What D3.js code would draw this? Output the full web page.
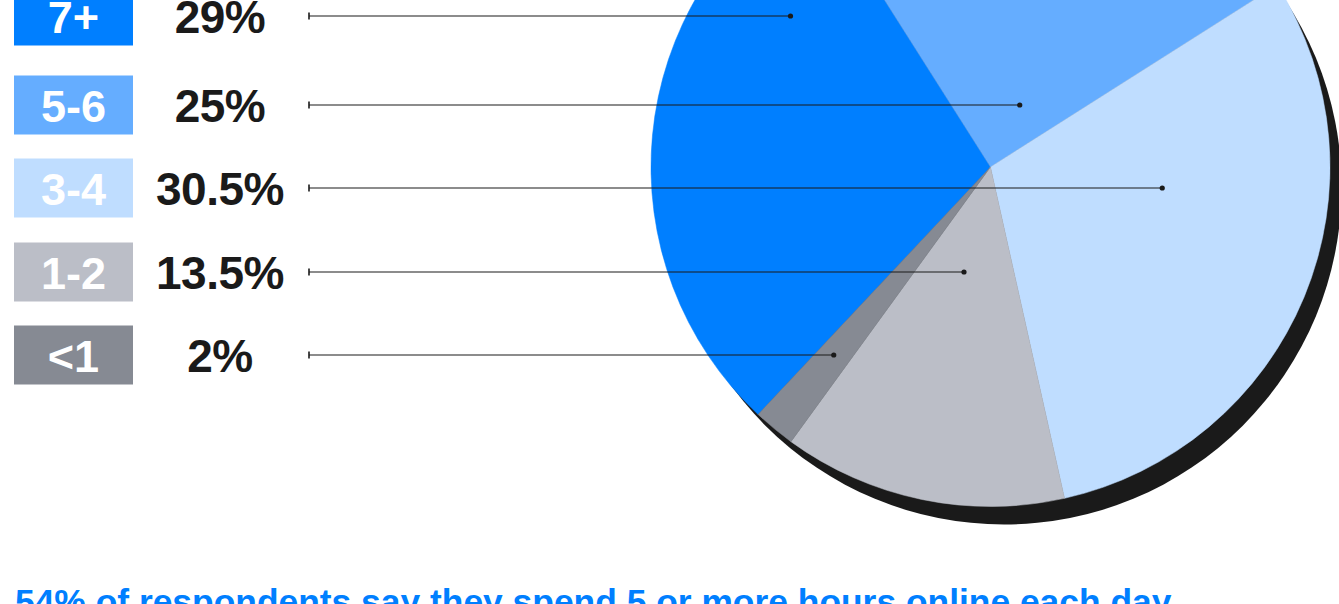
<!DOCTYPE html>
<html>
<head>
<meta charset="utf-8">
<script src="https://cdn.jsdelivr.net/npm/d3@7"></script>
<style>
  html, body { margin: 0; padding: 0; background: #ffffff; overflow: hidden; }
  svg { display: block; }
</style>
</head>
<body>
<svg id="chart" width="1339" height="604"></svg>
<script>
// Hours spent online per day
const categories = ["7+", "5-6", "3-4", "1-2", "<1"];
const shares = [29, 25, 30.5, 13.5, 2];
const shareLabels = ["29%", "25%", "30.5%", "13.5%", "2%"];
const colors = ["#007fff", "#65adff", "#bfddff", "#bbbec7", "#868a93"];
const caption = "54% of respondents say they spend 5 or more hours online each day";

const W = 1339, H = 604;
const svg = d3.select("#chart");

// pie geometry
const cx = 990.5, cy = 167, R = 339.5;
const startAngle = -136.8 * Math.PI / 180;

const pie = d3.pie()
  .sort(null)
  .value(d => d)
  .startAngle(startAngle)
  .endAngle(startAngle + 2 * Math.PI);
const arcs = pie(shares);
const arc = d3.arc().innerRadius(0).outerRadius(R);

// drop shadow disc
svg.append("circle")
  .attr("cx", cx + 13.6)
  .attr("cy", cy + 20)
  .attr("r", R - 2)
  .attr("fill", "#1a1a1a");

const gPie = svg.append("g").attr("transform", `translate(${cx},${cy})`);
gPie.selectAll("path")
  .data(arcs)
  .join("path")
  .attr("d", arc)
  .attr("fill", (d, i) => colors[i])
  .attr("stroke", (d, i) => colors[i])
  .attr("stroke-width", 0.5);

// legend rows
const rowY = [16, 105, 188, 272, 355];
const boxX = 14, boxW = 119, boxH = 59;
const pctX = 220;
const leaderX0 = 309;

// middle of the slice's chord along a row line
function chordMid(d, y) {
  const dy = y - cy;
  let lo = null, hi = null;
  for (let x = cx - R; x <= cx + R; x += 0.5) {
    const dx = x - cx;
    if (dx * dx + dy * dy > R * R) continue;
    let a = Math.atan2(dx, -dy);
    while (a < d.startAngle) a += 2 * Math.PI;
    while (a > d.startAngle + 2 * Math.PI) a -= 2 * Math.PI;
    if (a >= d.startAngle && a <= d.endAngle) {
      if (lo === null) lo = x;
      hi = x;
    }
  }
  return lo === null ? cx : (lo + hi) / 2;
}

const rows = svg.append("g").selectAll("g")
  .data(categories)
  .join("g")
  .attr("transform", (d, i) => `translate(0,${rowY[i]})`);

rows.append("rect")
  .attr("x", boxX)
  .attr("y", -29.5)
  .attr("width", boxW)
  .attr("height", boxH)
  .attr("fill", (d, i) => colors[i]);

rows.append("text")
  .attr("x", boxX + boxW / 2)
  .attr("y", 17)
  .attr("text-anchor", "middle")
  .attr("fill", "#ffffff")
  .attr("font-family", "'Liberation Sans', Arial, sans-serif")
  .attr("font-weight", 700)
  .attr("font-size", 45)
  .text(d => d);

rows.append("text")
  .attr("x", pctX)
  .attr("y", 17)
  .attr("text-anchor", "middle")
  .attr("fill", "#1a1a1a")
  .attr("font-family", "'Liberation Sans', Arial, sans-serif")
  .attr("font-weight", 700)
  .attr("font-size", 46)
  .attr("letter-spacing", -0.5)
  .text((d, i) => shareLabels[i]);

// leader lines into the slices
const leaders = svg.append("g").selectAll("g")
  .data(arcs)
  .join("g")
  .attr("transform", (d, i) => `translate(0,${rowY[i]})`);

leaders.append("line")
  .attr("x1", leaderX0)
  .attr("x2", (d, i) => chordMid(d, rowY[i]))
  .attr("y1", 0).attr("y2", 0)
  .attr("stroke", "#1a1a1a")
  .attr("stroke-width", 1.2);

leaders.append("line")
  .attr("x1", leaderX0).attr("x2", leaderX0)
  .attr("y1", -3.5).attr("y2", 3.5)
  .attr("stroke", "#1a1a1a")
  .attr("stroke-width", 1.6);

leaders.append("circle")
  .attr("cx", (d, i) => chordMid(d, rowY[i]))
  .attr("cy", 0)
  .attr("r", 2.6)
  .attr("fill", "#1a1a1a");

// caption
svg.append("text")
  .attr("x", 15)
  .attr("y", 613.5)
  .attr("fill", "#007fff")
  .attr("font-family", "'Liberation Sans', Arial, sans-serif")
  .attr("font-weight", 700)
  .attr("font-size", 35.4)
  .text(caption);
</script>
</body>
</html>
